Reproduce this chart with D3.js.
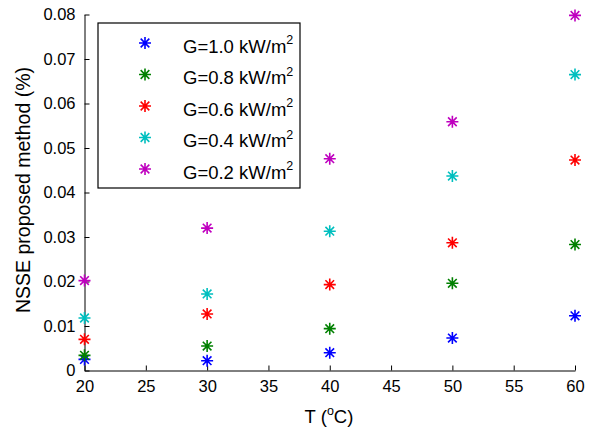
<!DOCTYPE html>
<html><head><meta charset="utf-8">
<script src="https://cdn.jsdelivr.net/npm/d3@7"></script>
<style>body{margin:0;background:#fff}svg{display:block}text{font-family:"Liberation Sans",Arial,Helvetica,sans-serif}</style>
</head><body>
<svg id="c" width="589" height="432"></svg>
<script>
const temps = [20, 30, 40, 50, 60];
const seriesNames = ["G=1.0 kW/m", "G=0.8 kW/m", "G=0.6 kW/m", "G=0.4 kW/m", "G=0.2 kW/m"];
const colors = ["#0000ff", "#008000", "#ff0000", "#00bfbf", "#bf00bf"];
const g10 = [0.0025, 0.0022, 0.0040, 0.0073, 0.0123];
const g08 = [0.0034, 0.0055, 0.0094, 0.0196, 0.0283];
const g06 = [0.0070, 0.0127, 0.0193, 0.0287, 0.0473];
const g04 = [0.0118, 0.0172, 0.0313, 0.0437, 0.0665];
const g02 = [0.0202, 0.0320, 0.0476, 0.0559, 0.0798];
const series = [g10, g08, g06, g04, g02];
const xTicks = [20, 25, 30, 35, 40, 45, 50, 55, 60];
const yTicks = [0, 0.01, 0.02, 0.03, 0.04, 0.05, 0.06, 0.07, 0.08];

const svg = d3.select("#c");
const L = 84.5, R = 575, T = 14.5, B = 370.5;
const x = d3.scaleLinear().domain([20, 60]).range([L, R]);
const y = d3.scaleLinear().domain([0, 0.08]).range([B, T]);

const xa = svg.append("g").attr("transform", `translate(0,${B})`)
  .call(d3.axisBottom(x).tickValues(xTicks).tickSizeInner(-5).tickSizeOuter(0).tickPadding(10).tickFormat(d3.format("d")));
const ya = svg.append("g").attr("transform", `translate(${L},0)`)
  .call(d3.axisLeft(y).tickValues(yTicks).tickSizeInner(-5).tickSizeOuter(0).tickPadding(9).tickFormat(d => d === 0 ? "0" : d3.format(".2f")(d)));
[xa, ya].forEach(a => {
  a.selectAll("path,line").attr("stroke", "#000").attr("stroke-width", 1);
  a.selectAll("text").attr("font-size", 16.5).attr("fill", "#000").attr("font-family", "Liberation Sans, Arial, sans-serif");
});
xa.selectAll("text").attr("dy", "0.71em");

function star(sel, s) {
  const d = `M${-s},0L${s},0M0,${-s}L0,${s}M${-s*0.72},${-s*0.72}L${s*0.72},${s*0.72}M${-s*0.72},${s*0.72}L${s*0.72},${-s*0.72}`;
  sel.append("path").attr("d", d).attr("stroke-width", 1.6).attr("fill", "none");
}

series.forEach((vals, i) => {
  const g = svg.append("g").attr("stroke", colors[i]);
  vals.forEach((v, j) => {
    const m = g.append("g").attr("transform", `translate(${x(temps[j])},${y(v)})`);
    star(m, 6);
  });
});

// legend
const lg = svg.append("g");
lg.append("rect").attr("x", 98).attr("y", 23).attr("width", 202).attr("height", 165)
  .attr("fill", "#fff").attr("stroke", "#000").attr("stroke-width", 1.2);
seriesNames.forEach((n, i) => {
  const cy = 43 + i * 31.5;
  const m = lg.append("g").attr("stroke", colors[i]).attr("transform", `translate(145,${cy})`);
  star(m, 6);
  const t = lg.append("text").attr("x", 183).attr("y", cy + 9.5).attr("font-size", 18.5).attr("fill", "#000");
  t.append("tspan").text(n);
  t.append("tspan").attr("font-size", 12.5).attr("dy", -8.5).text("2");
});

// axis labels
const xl = svg.append("text").attr("x", 329).attr("y", 423).attr("text-anchor", "middle").attr("font-size", 18.5).attr("fill", "#000");
xl.append("tspan").text("T (");
xl.append("tspan").attr("font-size", 12.5).attr("dy", -8).text("o");
xl.append("tspan").attr("dy", 8).text("C)");

svg.append("text").attr("transform", "translate(30,190) rotate(-90)").attr("text-anchor", "middle")
  .attr("font-size", 19.5).attr("fill", "#000").text("NSSE proposed method (%)");
</script>
</body></html>
